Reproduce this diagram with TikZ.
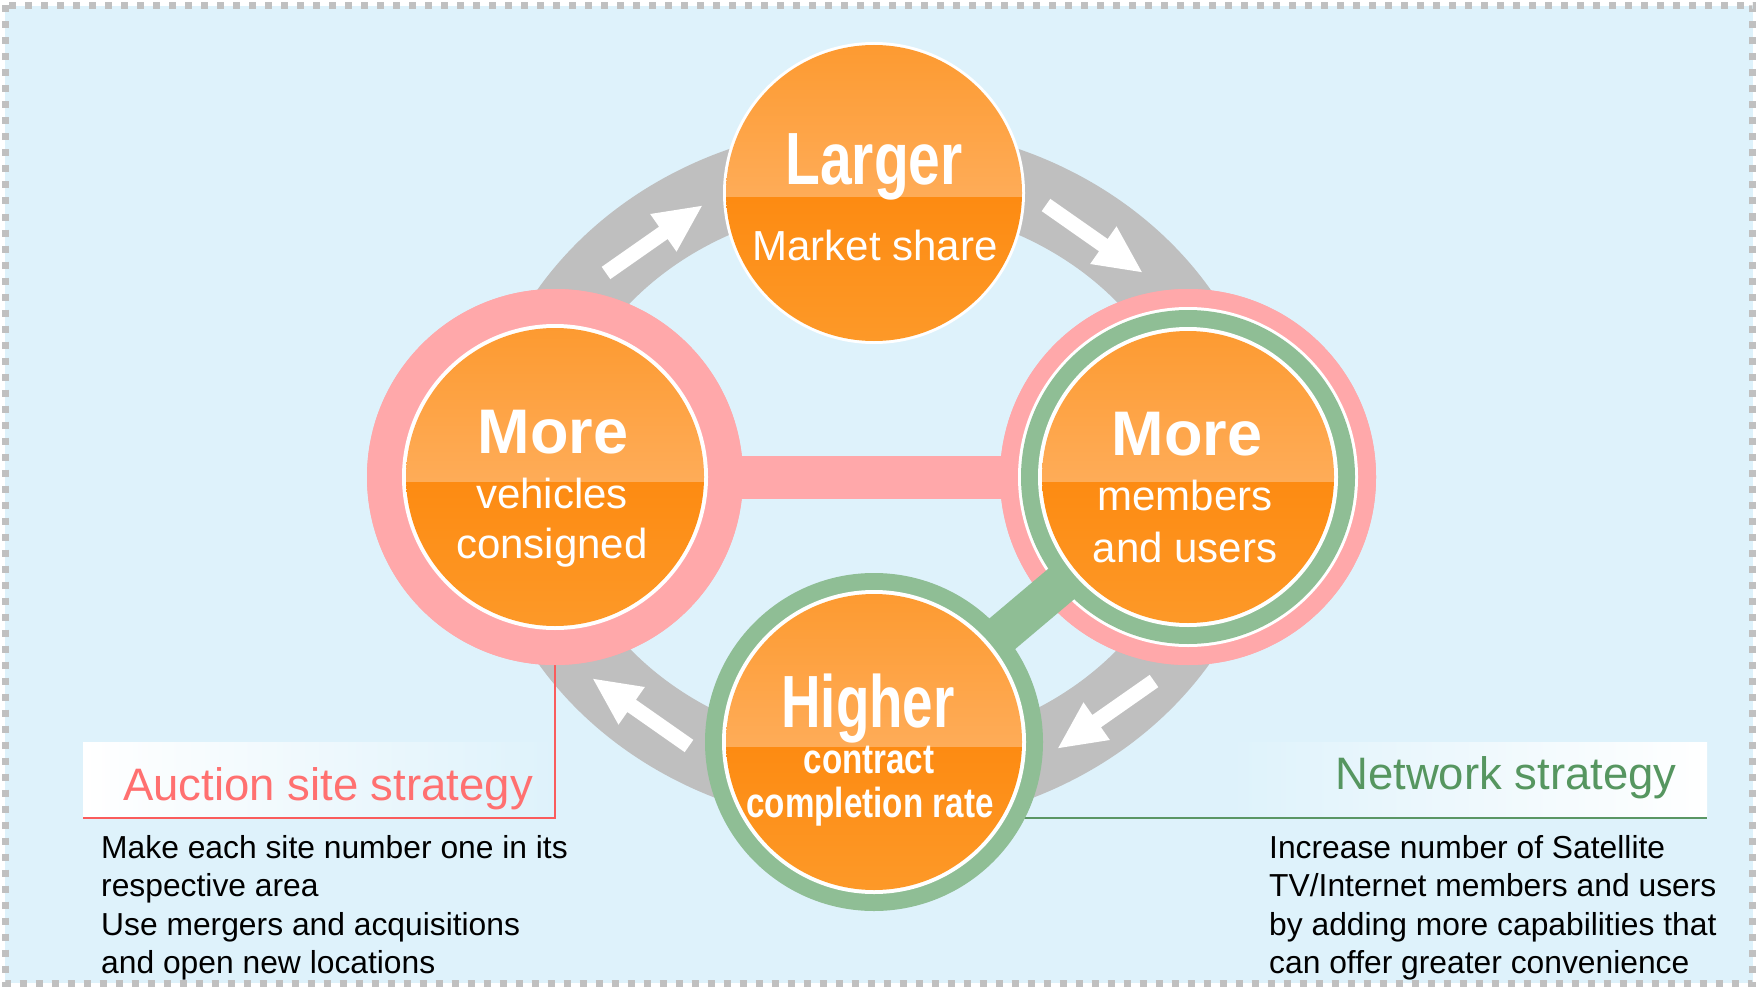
\documentclass[tikz,border=0pt]{standalone}
\usepackage{fontspec}
\setmainfont{Liberation Sans}
\newfontfamily\condfont[FakeStretch=0.74]{Liberation Sans}
\newfontfamily\condfontb[FakeStretch=0.77]{Liberation Sans}
\newfontfamily\midfont[FakeStretch=0.79]{Liberation Sans}
\definecolor{bgc}{RGB}{222,242,251}
\definecolor{dashgray}{RGB}{192,192,192}
\definecolor{ringgray}{RGB}{191,191,191}
\definecolor{pinkc}{RGB}{255,168,170}
\definecolor{greenc}{RGB}{143,190,149}
\definecolor{redline}{RGB}{250,92,92}
\definecolor{redtext}{RGB}{255,112,112}
\definecolor{greentext}{RGB}{86,150,96}
\definecolor{greenline}{RGB}{90,150,100}
\definecolor{orA}{RGB}{253,153,46}
\definecolor{orB}{RGB}{254,172,88}
\definecolor{orC}{RGB}{253,139,18}
\definecolor{orD}{RGB}{253,154,42}
\tikzset{
  disk/.style={circle, inner sep=0pt, outer sep=0pt, draw=none},
  bigword/.style={text=white, anchor=base, inner sep=0pt, font=\condfont\bfseries\fontsize{74}{80}\selectfont},
  moreword/.style={text=white, anchor=base, inner sep=0pt, font=\bfseries\fontsize{63}{70}\selectfont},
  subword/.style={text=white, anchor=base, inner sep=0pt, font=\fontsize{42}{50}\selectfont},
  midword/.style={text=white, anchor=base, inner sep=0pt, font=\midfont\bfseries\fontsize{42}{46}\selectfont},
  titleword/.style={anchor=base west, inner sep=0pt, font=\fontsize{45.5}{50}\selectfont},
  bodytext/.style={anchor=north west, inner sep=0pt, align=left, text=black, font=\fontsize{31.8}{38.5}\selectfont},
  stratline/.style={line width=2pt}
}
\newcommand\orangefill[2]{%
  \begin{scope}[shift={(#1.center)}]
    \clip (0,0) circle (#2pt);
    \shade[top color=orA, bottom color=orB] (-160,-160) rectangle (160,5);
    \shade[top color=orC, bottom color=orD] (-160,5) rectangle (160,160);
  \end{scope}}
\newcommand\ringarrow[3]{%
  \begin{scope}[shift={(#1,#2)}, rotate=#3]
    \fill[white] (0,-7.5) -- (70,-7.5) -- (70,-23) -- (117,0) -- (70,23) -- (70,7.5) -- (0,7.5) -- cycle;
  \end{scope}}
\begin{document}
\begin{tikzpicture}[x=1pt,y=-1pt]
\useasboundingbox (0,0) rectangle (1758,987);
\fill[white] (0,0) rectangle (1758,987);
\fill[bgc] (5,6) rectangle (1753,983);
\draw[dashgray, line width=7pt, dash pattern=on 7pt off 9pt] (5.5,5.5) rectangle (1752.5,983.5);

% gray cycle ring
\draw[ringgray, line width=80pt] (874,476) ellipse [x radius=357pt, y radius=311pt];
\ringarrow{606}{273}{35}
\ringarrow{1046}{205}{-35}
\ringarrow{1154}{681}{215}
\ringarrow{689}{746}{145}

% strategy label boxes
\shade[left color=white, right color=bgc] (83,742) rectangle (555,818);
\shade[left color=bgc, right color=white] (1230,742) rectangle (1707,818);

% circle nodes (positions)
\node[disk, minimum size=376pt, fill=pinkc] (vehiclesring) at (555,477) {};
\node[disk, minimum size=376pt, fill=pinkc] (membersring) at (1188,477) {};
\coordinate (ratecenter) at (874,742);

% strategy lines
\coordinate (auccorner) at (555,818);
\coordinate (aucend) at (83,818);
\coordinate (netend) at (1707,818);
\draw[redline, stratline] (vehiclesring.center) -- (auccorner) -- (aucend);
\draw[greenline, stratline] (ratecenter |- netend) -- (netend);

% pink bar
\draw[pinkc, line width=43pt] (vehiclesring.center) -- (membersring.center);
\node[disk, minimum size=376pt, fill=pinkc] at (vehiclesring.center) {};
\node[disk, minimum size=376pt, fill=pinkc] at (membersring.center) {};
\node[disk, minimum size=340pt, fill=white] (membersgap) at (membersring.center) {};

% green ring and bar
\node[disk, minimum size=338pt, fill=greenc] (rategreen) at (ratecenter) {};
\draw[greenc, line width=40pt] (rategreen.center) -- (membersring.center);
\node[disk, minimum size=334pt, fill=greenc] (membersgreen) at (membersring.center) {};

% white and orange disks
\node[disk, minimum size=302pt, fill=white] (share) at (874,193) {};
\node[disk, minimum size=306pt, fill=white] (vehicles) at (vehiclesring.center) {};
\node[disk, minimum size=300pt, fill=white] (members) at (membersring.center) {};
\node[disk, minimum size=304pt, fill=white] (rate) at (rategreen.center) {};
\orangefill{share}{148}
\orangefill{vehicles}{149}
\orangefill{members}{146}
\orangefill{rate}{148}

% circle texts
\node[bigword, font=\condfontb\bfseries\fontsize{74}{80}\selectfont] (largerlbl) at (874,185) {Larger};
\node[subword] (sharelbl) at (875,260) {Market share};
\node[moreword] (morel) at (553,453) {More};
\node[subword] (vehlbl) at (552,508) {vehicles};
\node[subword] (conslbl) at (552,558) {consigned};
\node[moreword] (morer) at (1187,455) {More};
\node[subword] (memlbl) at (1185,510) {members};
\node[subword] (userlbl) at (1185,562) {and users};
\node[bigword] (higherlbl) at (868,727) {Higher};
\node[midword] (contractlbl) at (869,773) {contract};
\node[midword] (ratelbl) at (870,817) {completion rate};

% strategy texts
\node[titleword, text=redtext] (auctitle) at (123,800) {Auction site strategy};
\node[titleword, text=greentext] (nettitle) at (1335,789) {Network strategy};
\node[bodytext] (aucbody) at (101,835) {Make each site number one in its\\respective area\\Use mergers and acquisitions\\and open new locations};
\node[bodytext] (netbody) at (1269,835) {Increase number of Satellite\\TV/Internet members and users\\by adding more capabilities that\\can offer greater convenience};
\end{tikzpicture}
\end{document}
